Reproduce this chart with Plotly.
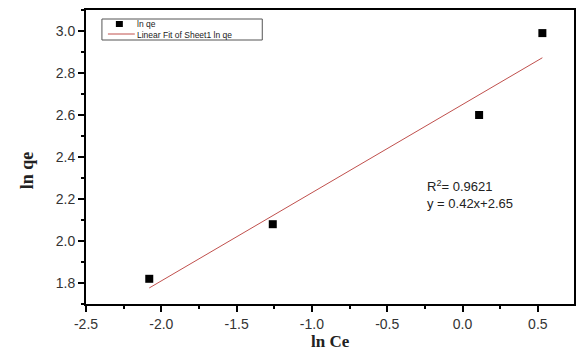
import plotly.graph_objects as go

ln_ce = [-2.08, -1.26, 0.11, 0.53]
ln_qe = [1.82, 2.08, 2.60, 2.99]
slope = 0.42
intercept = 2.65
r2 = 0.9621

x_ticks = [-2.5, -2.0, -1.5, -1.0, -0.5, 0.0, 0.5]
y_ticks = [1.8, 2.0, 2.2, 2.4, 2.6, 2.8, 3.0]
legend_names = ["ln qe", "Linear Fit of Sheet1 ln qe"]
x_title = "ln Ce"
y_title = "ln qe"

fit_x = [min(ln_ce), max(ln_ce)]
fit_y = [slope * v + intercept for v in fit_x]

FIT_COLOR = "#c0504d"
SANS = "Liberation Sans, Arial"
SERIF = "Liberation Serif, Times New Roman"

fig = go.Figure()
fig.add_trace(go.Scatter(x=ln_ce, y=ln_qe, mode="markers", name=legend_names[0],
                         marker=dict(symbol="square", size=8, color="black"), showlegend=False))
fig.add_trace(go.Scatter(x=fit_x, y=fit_y, mode="lines", name=legend_names[1],
                         line=dict(color=FIT_COLOR, width=1), showlegend=False))

# plot area: x 86..576, y 10..304 px
W, H = 490.0, 294.0
def px(x):
    return (x - 86) / W
def py(y):
    return (304 - y) / H

fig.add_annotation(x=px(427), y=py(194), xref="x domain", yref="y domain",
                   xanchor="left", yanchor="middle", showarrow=False, align="left",
                   borderpad=0,
                   text="R<sup>2</sup>= %.4f<br>y = %.2fx+%.2f" % (r2, slope, intercept),
                   font=dict(family=SANS, size=13, color="#222"))

# compact legend
fig.add_shape(type="rect", xref="x domain", yref="y domain",
              x0=px(102), x1=px(263), y0=py(40), y1=py(19),
              line=dict(color="#555", width=1), fillcolor="white")
fig.add_shape(type="rect", xref="x domain", yref="y domain",
              x0=px(116), x1=px(123), y0=py(27), y1=py(21),
              line=dict(color="black", width=0), fillcolor="black")
fig.add_shape(type="line", xref="x domain", yref="y domain",
              x0=px(108), x1=px(135), y0=py(34), y1=py(34),
              line=dict(color=FIT_COLOR, width=1))
fig.add_annotation(x=px(136), y=py(29.5), xref="x domain", yref="y domain",
                   xanchor="left", yanchor="middle", showarrow=False, align="left",
                   borderpad=0, text="<br>".join(legend_names),
                   font=dict(family=SANS, size=8.5, color="#222"))

# axis titles
fig.add_annotation(x=px(332), y=py(341), xref="x domain", yref="y domain",
                   xanchor="center", yanchor="middle", showarrow=False, borderpad=0,
                   text="<b>%s</b>" % x_title,
                   font=dict(family=SERIF, size=17, color="#222"))
fig.add_annotation(x=px(27), y=py(170), xref="x domain", yref="y domain",
                   xanchor="center", yanchor="middle", showarrow=False, textangle=-90,
                   borderpad=0, text="<b>%s</b>" % y_title,
                   font=dict(family=SERIF, size=18, color="#222"))

axis_common = dict(showgrid=False, zeroline=False, showline=True, linecolor="black",
                   linewidth=2, mirror=True, ticks="outside", ticklen=6, tickwidth=2,
                   tickcolor="black",
                   tickfont=dict(family=SANS, size=14, color="#333"))

fig.update_layout(
    width=578, height=352,
    margin=dict(l=86, r=2, t=10, b=48),
    paper_bgcolor="white", plot_bgcolor="white",
    xaxis=dict(range=[-2.5, 0.74], tickvals=x_ticks, ticktext=["%.1f" % v for v in x_ticks],
               minor=dict(dtick=0.25, tick0=-2.5, ticks="outside", ticklen=3, tickwidth=2, tickcolor="black"),
               **axis_common),
    yaxis=dict(range=[1.7, 3.1], tickvals=y_ticks, ticktext=["%.1f" % v for v in y_ticks],
               minor=dict(dtick=0.1, tick0=1.7, ticks="outside", ticklen=3, tickwidth=2, tickcolor="black"),
               **axis_common),
    showlegend=False,
)

fig.write_html("out.html")
